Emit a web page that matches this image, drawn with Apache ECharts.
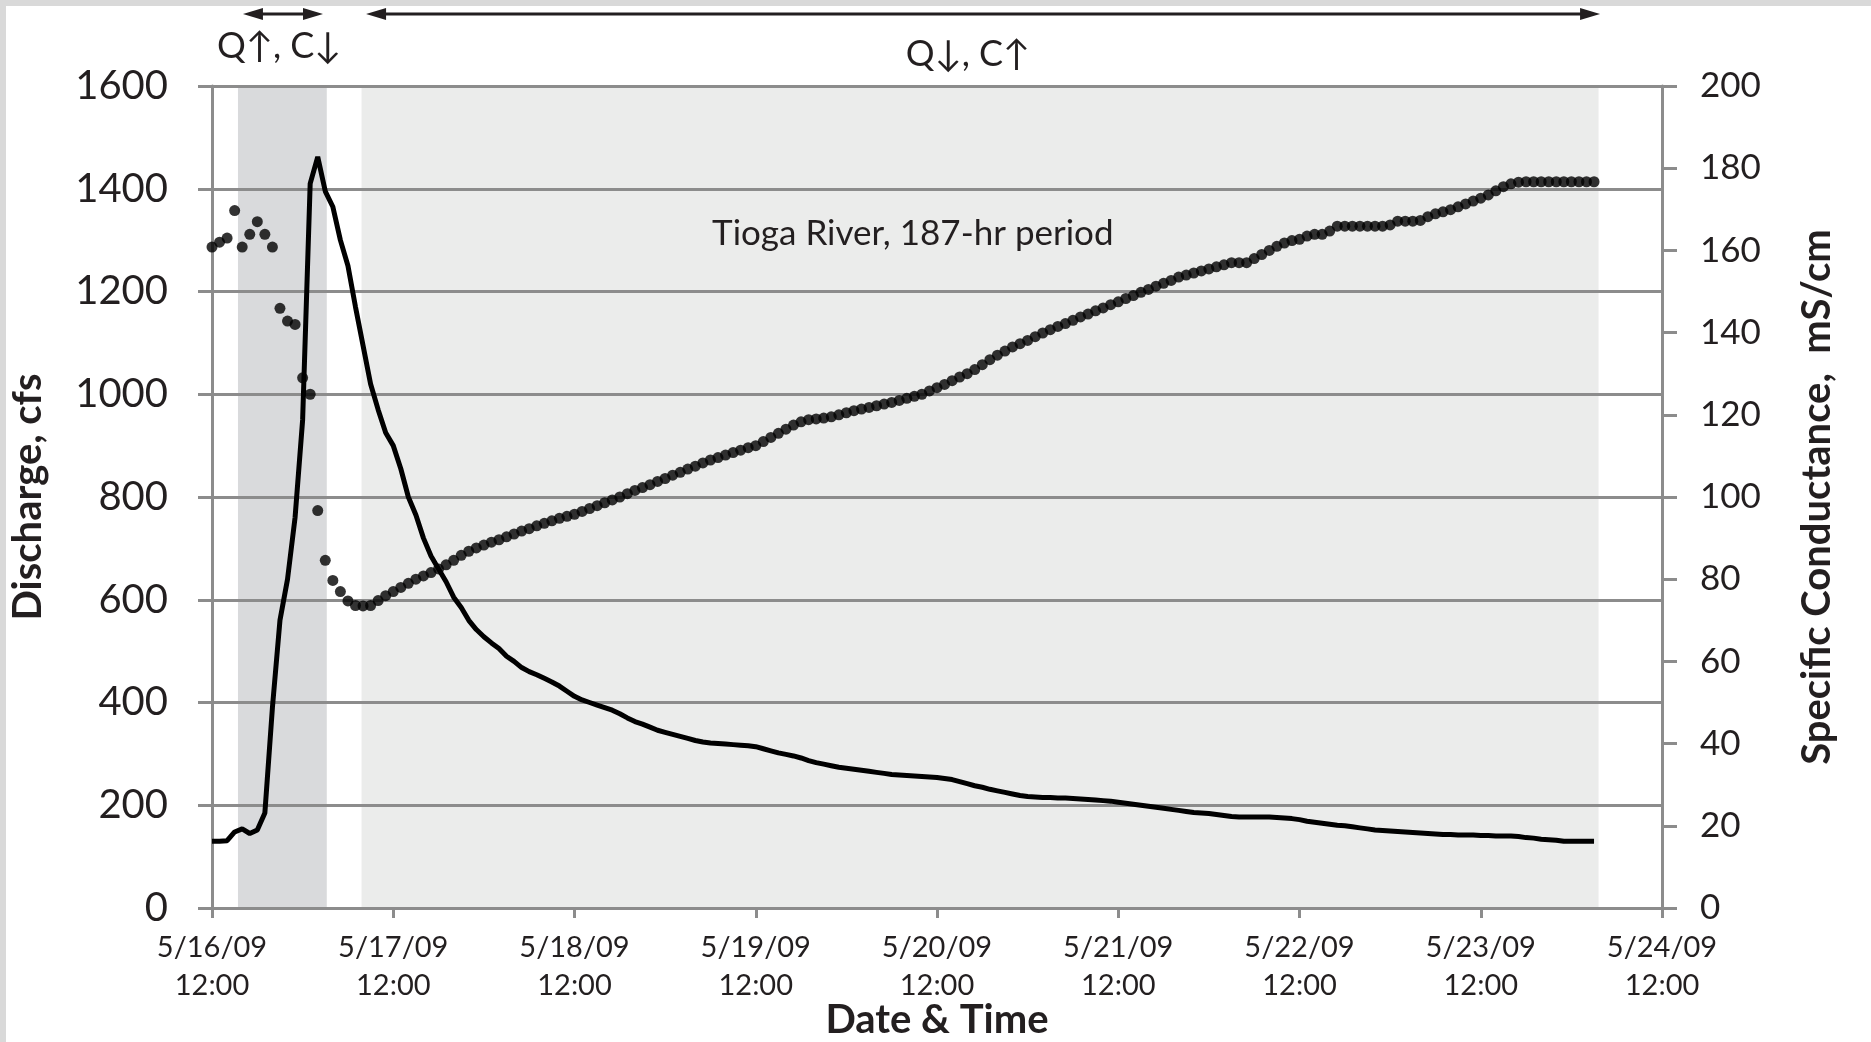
<!DOCTYPE html>
<html>
<head>
<meta charset="utf-8">
<script src="https://cdn.jsdelivr.net/npm/echarts@6/dist/echarts.min.js"></script>
<style>
html,body{margin:0;padding:0;background:#fff;}
#chart{position:absolute;left:0;top:0;width:1871px;height:1042px;}
.strip{position:absolute;background:#d9d9d9;z-index:5;}
</style>
</head>
<body>
<div id="chart"></div>
<div class="strip" style="left:0;top:0;width:1871px;height:6px;"></div>
<div class="strip" style="left:0;top:0;width:6px;height:1042px;"></div>
<script>
// ---- data (hourly, hour 0 = 5/16/09 12:00) ----
const xTickLabels = ['5/16/09\n12:00','5/17/09\n12:00','5/18/09\n12:00','5/19/09\n12:00','5/20/09\n12:00','5/21/09\n12:00','5/22/09\n12:00','5/23/09\n12:00','5/24/09\n12:00'];
const dischargeTicks = [0,200,400,600,800,1000,1200,1400,1600];
const conductanceTicks = [0,20,40,60,80,100,120,140,160,180,200];

// Discharge, cfs
const discharge = [130,130,131,148,154,145,152,185,390,560,640,760,950,1410,1462,1395,1365,1300,1250,1170,
1095,1020,970,925,900,855,800,765,720,685,660,635,605,585,560,542,528,516,505,490,
480,468,460,454,447,440,432,422,412,405,400,395,390,385,378,370,363,358,352,346,
342,338,334,330,326,323,321,320,319,318,317,316,314,310,306,302,299,296,292,287,
283,280,277,274,272,270,268,266,264,262,260,259,258,257,256,255,254,252,250,246,
242,238,235,231,228,225,222,219,217,216,215,215,214,214,213,212,211,210,209,208,
206,204,202,200,198,196,194,192,190,188,186,185,184,182,180,178,177,177,177,177,
177,176,175,174,172,169,167,165,163,161,160,158,156,154,152,151,150,149,148,147,
146,145,144,143,143,142,142,142,141,141,140,140,140,139,137,136,134,133,132,130,
130,130,130,130];

// Specific conductance, mS/cm
const conductance = [160.8,162.0,163.0,169.7,160.8,163.9,167.0,163.9,160.8,145.9,142.8,142.0,129.0,125.0,96.7,84.6,79.7,77.0,74.7,73.6,
73.5,73.6,74.8,76.0,77.0,78.0,79.0,80.0,80.8,81.6,82.5,83.5,84.6,85.8,86.8,87.6,88.3,89.0,89.6,90.3,
91.0,91.7,92.3,93.0,93.6,94.2,94.8,95.3,95.8,96.5,97.2,97.9,98.6,99.3,100.0,100.8,101.6,102.3,103.0,103.8,
104.5,105.3,106.0,106.8,107.5,108.3,109.0,109.6,110.2,110.8,111.4,112.0,112.5,113.5,114.5,115.5,116.5,117.5,118.3,118.8,
119.0,119.2,119.5,120.0,120.5,121.0,121.4,121.8,122.2,122.6,123.0,123.5,124.0,124.5,125.0,125.8,126.6,127.4,128.3,129.2,
130.0,131.0,132.2,133.4,134.5,135.5,136.5,137.3,138.1,139.0,139.9,140.7,141.5,142.2,143.0,143.8,144.5,145.3,146.0,146.8,
147.5,148.3,149.0,149.8,150.5,151.3,152.0,152.7,153.5,154.0,154.5,155.0,155.5,156.0,156.5,157.0,157.0,157.0,158.0,159.0,
160.0,161.0,161.8,162.4,162.7,163.5,163.9,163.9,164.7,165.9,165.9,165.9,165.9,165.9,165.9,165.9,166.2,167.1,167.1,167.1,
167.3,168.2,168.9,169.4,169.9,170.6,171.3,172.0,172.7,173.5,174.5,175.5,176.2,176.6,176.7,176.7,176.7,176.7,176.7,176.7,
176.7,176.7,176.7,176.7];

// shaded periods (hours): [start, end, kind]
const periods = [[3.44, 15.2, 'rise'], [19.8, 183.6, 'fall']];
// annotation arrows (hours) and labels
const arrowSpans = [[4.1, 14.7], [20.4, 183.8]];
const periodLabels = [['Q\u2191, C\u2193', 8.9], ['Q\u2193, C\u2191', 100.1]];
const innerTitle = ['Tioga River, 187-hr period', 92.8, 1312];

const FONT = 'Lato, "DejaVu Sans", sans-serif';
const TXT = '#231f20';
const AX = '#8c8c8c';

const qData = discharge.map((v, i) => [i, v]);
const cData = conductance.map((v, i) => [i, v]);

const chart = echarts.init(document.getElementById('chart'), null, {width:1871, height:1042});

const option = {
  animation: false,
  backgroundColor: '#ffffff',
  grid: {left: 212, right: 209, top: 86, bottom: 134, containLabel: false, outerBoundsMode: 'none'},
  xAxis: {
    type: 'value', min: 0, max: 192, interval: 24, z: 1,
    axisLine: {show: true, lineStyle: {color: AX, width: 3}},
    axisTick: {show: true, length: 10, lineStyle: {color: AX, width: 3}},
    splitLine: {show: false},
    axisLabel: {formatter: v => xTickLabels[Math.round(v / 24)], fontSize: 29, lineHeight: 38,
      color: TXT, margin: 21, fontFamily: FONT},
    name: 'Date & Time', nameLocation: 'middle', nameGap: 92, nameMoveOverlap: false,
    nameTextStyle: {fontSize: 40, fontWeight: 'bold', color: TXT, fontFamily: FONT}
  },
  yAxis: [{
    type: 'value', position: 'left', min: 0, max: 1600, interval: 200, z: 1,
    axisLine: {show: true, lineStyle: {color: AX, width: 3}},
    axisTick: {show: true, length: 14, lineStyle: {color: AX, width: 3}},
    splitLine: {show: true, lineStyle: {color: AX, width: 3}},
    axisLabel: {fontSize: 40, color: TXT, margin: 44, fontFamily: FONT,
      formatter: v => dischargeTicks.includes(v) ? String(v) : ''},
    name: 'Discharge, cfs', nameLocation: 'middle', nameGap: 164,
    nameTextStyle: {fontSize: 40, fontWeight: 'bold', color: TXT, fontFamily: FONT}
  }, {
    type: 'value', position: 'right', min: 0, max: 200, interval: 20, z: 1,
    axisLine: {show: true, lineStyle: {color: AX, width: 3}},
    axisTick: {show: true, length: 15, lineStyle: {color: AX, width: 3}},
    splitLine: {show: false},
    axisLabel: {fontSize: 35, color: TXT, margin: 38, fontFamily: FONT,
      formatter: v => conductanceTicks.includes(v) ? String(v) : ''},
    name: 'Specific Conductance,  mS/cm', nameLocation: 'middle', nameGap: 135,
    nameTextStyle: {fontSize: 40, fontWeight: 'bold', color: TXT, fontFamily: FONT}
  }],
  series: [{
    type: 'custom', z: 0, silent: true, xAxisIndex: 0, yAxisIndex: 0,
    data: periods,
    renderItem: (params, api) => {
      const p0 = api.coord([api.value(0), 1600]);
      const p1 = api.coord([api.value(1), 0]);
      const kind = periods[params.dataIndex][2];
      return {type: 'rect', shape: {x: p0[0], y: p0[1], width: p1[0] - p0[0], height: p1[1] - p0[1]},
        style: {fill: kind === 'rise' ? '#d9dadc' : '#ebeceb'}};
    }
  }, {
    name: 'Discharge', type: 'line', yAxisIndex: 0, z: 3, data: qData,
    showSymbol: false, symbol: 'none', lineStyle: {color: '#000', width: 5}
  }, {
    name: 'Specific Conductance', type: 'scatter', yAxisIndex: 1, z: 4, data: cData,
    symbol: 'circle', symbolSize: 11, itemStyle: {color: '#000'}
  }]
};
chart.setOption(option);

// annotations placed through the chart's own scales
const graphics = [];
const arrowY = 14, headL = 20, headH = 6;
arrowSpans.forEach(([a, b]) => {
  const x1 = chart.convertToPixel({xAxisIndex: 0}, a);
  const x2 = chart.convertToPixel({xAxisIndex: 0}, b);
  graphics.push({type: 'line', shape: {x1: x1 + headL - 2, y1: arrowY, x2: x2 - headL + 2, y2: arrowY},
    style: {stroke: TXT, lineWidth: 3}, z: 10});
  graphics.push({type: 'polygon', shape: {points: [[x1, arrowY], [x1 + headL, arrowY - headH], [x1 + headL, arrowY + headH]]},
    style: {fill: TXT}, z: 10});
  graphics.push({type: 'polygon', shape: {points: [[x2, arrowY], [x2 - headL, arrowY - headH], [x2 - headL, arrowY + headH]]},
    style: {fill: TXT}, z: 10});
});
const labelYs = [46, 54];
periodLabels.forEach(([t, h], i) => {
  const x = chart.convertToPixel({xAxisIndex: 0}, h);
  graphics.push({type: 'text', x: x, y: labelYs[i], z: 10,
    style: {text: t, fontSize: 36, fontFamily: FONT, fill: TXT, align: 'center', verticalAlign: 'middle'}});
});
const tp = chart.convertToPixel({gridIndex: 0}, [innerTitle[1], innerTitle[2]]);
graphics.push({type: 'text', x: tp[0], y: tp[1], z: 10,
  style: {text: innerTitle[0], fontSize: 35, fontFamily: FONT, fill: TXT, align: 'center', verticalAlign: 'middle'}});
chart.setOption({graphic: graphics});
</script>
</body>
</html>
